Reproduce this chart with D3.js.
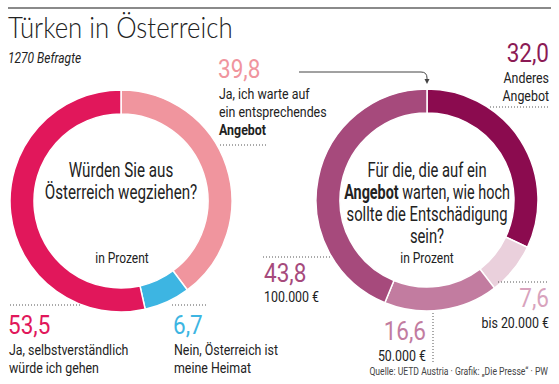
<!DOCTYPE html>
<html><head><meta charset="utf-8">
<script src="https://cdn.jsdelivr.net/npm/d3@7"></script>
<style>
html,body{margin:0;padding:0;background:#fff;}
svg text{font-family:Roboto,"Noto Sans",sans-serif;fill:#222;}
</style></head>
<body><svg id="c" width="559" height="384"></svg>
<script>
const title = "Türken in Österreich";
const subtitle = "1270 Befragte";
const leftCategories = ["Ja, ich warte auf ein entsprechendes Angebot", "Nein, Österreich ist meine Heimat", "Ja, selbstverständlich würde ich gehen"];
const leftValues = [39.8, 6.7, 53.5];
const leftColors = ["#f0959e", "#3db5e2", "#e1175b"];
const rightCategories = ["Anderes Angebot", "bis 20.000 €", "50.000 €", "100.000 €"];
const rightValues = [32.0, 7.6, 16.6, 43.8];
const rightColors = ["#8b0b4f", "#ead0dc", "#c27ca0", "#a64a7c"];
const rightLabelColors = ["#8b1a55", "#d8a3bd", "#c27ca0", "#a64a7c"];
const source = "Quelle: UETD Austria · Grafik: „Die Presse“ · PW";

const svg = d3.select("#c");
const fmt = v => d3.format(".1f")(v).replace(".", ",");
// condensed text: a group scaled horizontally
function T(x, y, s, size, anchor, k, opts){
  opts = opts || {};
  const g = svg.append("g").attr("transform", `translate(${x},${y}) scale(${k},1)`);
  const t = g.append("text").attr("x",0).attr("y",0).attr("font-size",size)
    .attr("text-anchor",anchor||"start");
  if (Array.isArray(s)) s.forEach(p => { const sp = t.append("tspan").text(p.t); if(p.b) sp.style("font-weight","bold"); });
  else t.text(s);
  if (opts.color) t.style("fill", opts.color);
  if (opts.bold) t.style("font-weight","bold");
  if (opts.italic) t.style("font-style","italic");
  if (opts.family) t.style("font-family", opts.family);
  if (opts.weight) t.style("font-weight", opts.weight);
  return t;
}

// top rule
svg.append("line").attr("x1",8).attr("x2",551).attr("y1",8).attr("y2",8)
  .attr("stroke","#8a8a8a").attr("stroke-width",2);
T(8,38,title,30,"start",0.86,{family:"Lato, 'Open Sans', sans-serif", weight:300});
T(8,63,subtitle,15,"start",0.8,{italic:true});

const pie = d3.pie().sort(null).value(d => d);
const arc = d3.arc().innerRadius(87).outerRadius(111);

function donut(cx, cy, values, colors){
  const g = svg.append("g").attr("transform",`translate(${cx},${cy})`);
  g.selectAll("path").data(pie(values)).join("path")
    .attr("d", arc).attr("fill",(d,i)=>colors[i])
    .attr("stroke","#fff").attr("stroke-width",1.5);
  return g;
}
donut(121, 201, leftValues, leftColors);
donut(427, 200, rightValues, rightColors);

// centre texts
const KC = 0.76;
T(121,177,"Würden Sie aus",20,"middle",KC);
T(121,199,"Österreich wegziehen?",20,"middle",KC);
T(122,263,"in Prozent",15,"middle",0.8);
T(427,177,"Für die, die auf ein",20,"middle",0.74);
T(427,199,[{t:"Angebot",b:true},{t:" warten, wie hoch"}],20,"middle",0.72);
T(427,221,"sollte die Entschädigung",20,"middle",0.74);
T(427,243,"sein?",20,"middle",0.74);
T(427,263,"in Prozent",15,"middle",0.8);

// dotted leader helper
const dot = (x1,y1,x2,y2) => svg.append("line").attr("x1",x1).attr("y1",y1).attr("x2",x2).attr("y2",y2)
  .attr("stroke","#555").attr("stroke-width",1).attr("stroke-dasharray","1,2");

const K = 0.8;
const num = (x,y,v,color,anchor) => T(x,y,fmt(v),25,anchor,0.9,{color});
const txt = (x,y,s,anchor,bold) => T(x,y,s,15.5,anchor,K,{bold});

function label(x, y, value, color, lines, anchor, boldLast){
  num(x,y,value,color,anchor);
  lines.forEach((l,i)=> txt(x+(anchor==="start"?1:0), y+21+i*18, l, anchor, boldLast && i===lines.length-1));
}
// Left donut labels
label(218,78,leftValues[0],leftColors[0],["Ja, ich warte auf","ein entsprechendes","Angebot"],"start",true);
dot(220,145,268,145);
label(8,334,leftValues[2],leftColors[2],["Ja, selbstverständlich","würde ich gehen"],"start");
dot(10,305,80,305);
label(173,334,leftValues[1],leftColors[1],["Nein, Österreich ist","meine Heimat"],"start");
dot(172,305,206,305);

// Right donut labels
num(549,62,rightValues[0],rightLabelColors[0],"end");
txt(549,83,"Anderes","end");
txt(549,101,"Angebot","end");
dot(490,107,549,107);
num(549,307,rightValues[1],rightLabelColors[1],"end");
txt(549,328,rightCategories[1],"end");
dot(498,282,549,282);
num(426,340,rightValues[2],rightLabelColors[2],"end");
txt(426,361,rightCategories[2],"end");
dot(433,313,433,362);
num(264,282,rightValues[3],rightLabelColors[3],"start");
txt(264,302,rightCategories[3],"start");
dot(263,257,330,257);

// arrow
svg.append("path").attr("d","M299,72 L421,72 Q427,72 427,78 L427,80")
  .attr("fill","none").attr("stroke","#444").attr("stroke-width",1);
svg.append("path").attr("d","M424.5,79 L429.5,79 L427,84 Z").attr("fill","#444");

T(548,375,source,11.5,"end",0.75,{color:"#444"});
</script></body></html>
